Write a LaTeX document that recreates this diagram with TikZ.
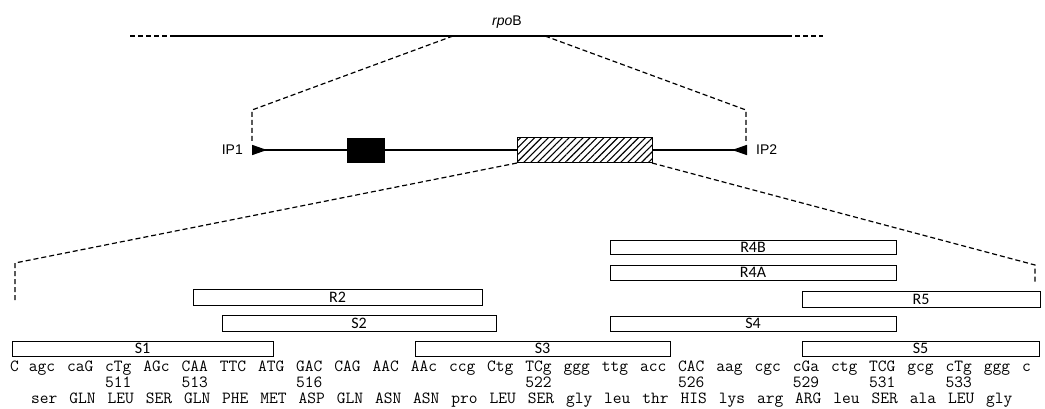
\documentclass[tikz,border=0pt]{standalone}
\usepackage{fontspec}
\setsansfont{Liberation Sans}
\newfontfamily\primerfont{Carlito}
\usetikzlibrary{positioning}
\usetikzlibrary{arrows.meta}
\usetikzlibrary{patterns.meta}
\tikzset{seg/.style={rectangle,draw=black,fill=white,line width=1pt,inner sep=0pt,outer sep=0pt,
font=\fontsize{16}{16}\primerfont},
blk/.style={rectangle,fill=black,inner sep=0pt,minimum width=38pt,minimum height=25pt},
hatch/.style={rectangle,draw=black,line width=1pt,inner sep=0pt,outer sep=0pt,preaction={fill=white},
pattern={Lines[angle=45,distance=4.9pt,line width=1.1pt]},minimum width=135pt,minimum height=25pt},
zoom/.style={dash pattern=on 5pt off 3pt, line width=1.2pt},
lbl/.style={inner sep=0pt, font=\fontsize{14}{14}\sffamily},
seq/.style={inner sep=0pt, anchor=base west, font=\fontsize{17}{17}\ttfamily},
ipt/.tip={Triangle[reversed,length=15pt,width=10pt]}}
\newcommand{\primer}[5]{
\node (#1) [seg, minimum width=#3pt-#2pt, minimum height=#5pt-#4pt] at ({(#2+#3)/2},{(#4+#5)/2}) {\raisebox{-1.5pt}{#1}};
}

\begin{document}
\begin{tikzpicture}[x=1pt,y=-1pt]
    \useasboundingbox (0,0) rectangle (1045,409);

    % gene
    \coordinate (tl) at (130,36);
    \coordinate (tl2) at (170,36);
    \coordinate (tr2) at (787,36);
    \coordinate (tr) at (823,36);
    \coordinate (ua) at (453,36);
    \coordinate (ub) at (545,36);
    \node (gene) [lbl, anchor=base] at (507,26) {\textit{rpo}B};

    \draw [zoom] (tl) -- (tl2);
    \draw [line width=1.4pt] (tl2) -- (tr2);
    \draw [zoom] (tr2) -- (tr);

    % amplified fragment
    \coordinate (ip1) at (252,150);
    \coordinate (ip2) at (747,150);
    \coordinate (ul) at (252,110);
    \coordinate (ur) at (746,110);
    \coordinate (ul2) at (252,142);
    \coordinate (ur2) at (746,142);

    \draw [line width=1.5pt, ipt-ipt] (ip1) -- (ip2);
    \node (box) [blk] at (366,150.5) {};
    \node (rif) [hatch] at (584.5,150.5) {};
    \node (ip1lab) [lbl, left=9pt of ip1] {IP1};
    \node (ip2lab) [lbl, right=9pt of ip2] {IP2};

    \draw [zoom] (ua) -- (ul) -- (ul2);
    \draw [zoom] (ub) -- (ur) -- (ur2);

    % primers
    \coordinate (ll) at (15,263);
    \coordinate (ll2) at (15,302);
    \coordinate (lr) at (1035,265);
    \coordinate (lr2) at (1035,282);
    \draw [zoom] (rif.south west) -- (ll) -- (ll2);
    \draw [zoom] (rif.south east) -- (lr) -- (lr2);

    \primer{R4B}{610}{896}{240}{254}
    \primer{R4A}{610}{896}{265}{280}
    \primer{R2}{193}{482}{289}{305}
    \primer{R5}{802}{1040}{291}{307}
    \primer{S2}{222}{496}{315}{331}
    \primer{S4}{610}{896}{316}{331}
    \primer{S1}{12}{273}{341}{356}
    \primer{S3}{415}{670}{341}{356}
    \primer{S5}{802}{1039}{341}{356}

    % sequence
    \node (c0) [seq] at (10,371) {C};
    \foreach \cod [count=\i] in {agc,caG,cTg,AGc,CAA,TTC,ATG,GAC,CAG,AAC,AAc,ccg,Ctg,
      TCg,ggg,ttg,acc,CAC,aag,cgc,cGa,ctg,TCG,gcg,cTg,ggg}
      \node (c\i) [seq] at ({28.6+38.2*(\i-1)},371) {\cod};
    \node (c27) [seq] at (1022,371) {c};

    \foreach \i/\n in {3/511,5/513,8/516,14/522,18/526,21/529,23/531,25/533}
      \node (n\i) [seq] at ({28.6+38.2*(\i-1)},387) {\n};

    \foreach \aa [count=\i] in {ser,GLN,LEU,SER,GLN,PHE,MET,ASP,GLN,ASN,ASN,pro,LEU,
      SER,gly,leu,thr,HIS,lys,arg,ARG,leu,SER,ala,LEU,gly}
      \node (a\i) [seq] at ({31+38.2*(\i-1)},403) {\aa};

\end{tikzpicture}
\end{document}
